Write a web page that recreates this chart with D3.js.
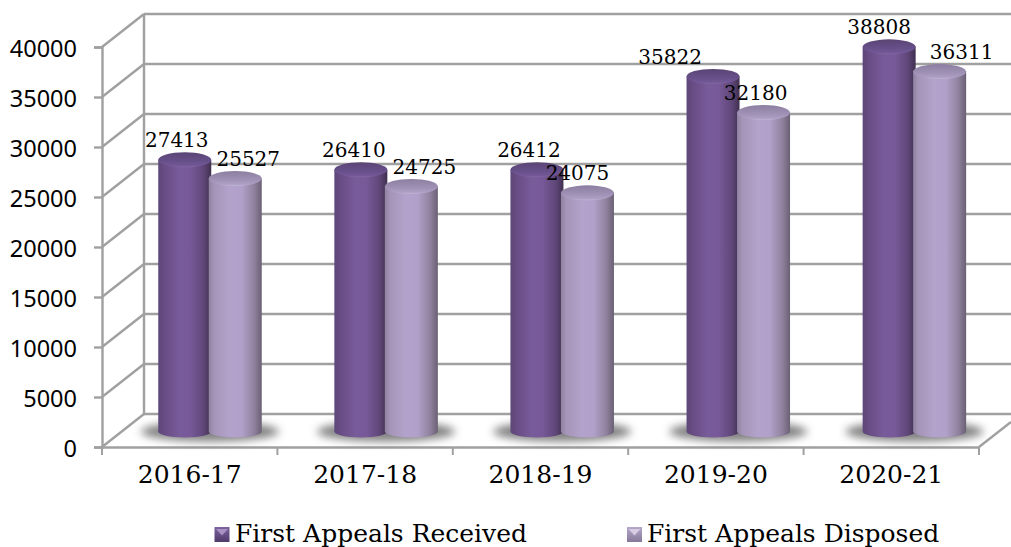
<!DOCTYPE html>
<html><head><meta charset="utf-8">
<script src="https://cdn.jsdelivr.net/npm/d3@7"></script>
<style>html,body{margin:0;background:#fff;overflow:hidden}svg{display:block}</style></head>
<body><div id="c"></div>
<script>
const categories=["2016-17","2017-18","2018-19","2019-20","2020-21"];
const received=[27413,26410,26412,35822,38808];
const disposed=[25527,24725,24075,32180,36311];
const seriesNames=["First Appeals Received","First Appeals Disposed"];
const yTicks=[0,5000,10000,15000,20000,25000,30000,35000,40000];
// horizontal nudges of the data labels relative to their bar, as placed in the reference
const receivedLabelNudge=[-8,-7,-8,-43,-10];
const disposedLabelNudge=[13,13,-10,-8,22];

const W=1011,H=547,GRID="#a0a0a0";
const depth={x:42,y:-33};
const svg=d3.select("#c").append("svg").attr("width",W).attr("height",H);
const defs=svg.append("defs");
function lin(id,stops,x2=1,y2=0){
  const g=defs.append("linearGradient").attr("id",id).attr("x1",0).attr("y1",0).attr("x2",x2).attr("y2",y2);
  stops.forEach(s=>g.append("stop").attr("offset",s[0]).attr("stop-color",s[1]));
}
lin("bodyA",[[0,"#5c4679"],[.1,"#674b82"],[.4,"#785b9a"],[.6,"#775999"],[.85,"#604779"],[1,"#40304f"]]);
lin("bodyB",[[0,"#8f829f"],[.1,"#a595b8"],[.4,"#b3a2cb"],[.62,"#b1a0c9"],[.85,"#90839f"],[1,"#6a6074"]]);
lin("topA",[[0,"#5a4474"],[.6,"#67508a"],[.88,"#725896"],[1,"#8269a3"]],0,1);
lin("topB",[[0,"#8b7ea0"],[.6,"#a092b6"],[.88,"#ad9fc4"],[1,"#c0b4d4"]],0,1);
lin("lgA",[[0,"#7d63a0"],[1,"#4f3a69"]],0,1);
lin("lgB",[[0,"#b6a8cc"],[1,"#857897"]],0,1);
defs.append("filter").attr("id","blur").attr("x","-30%").attr("y","-80%").attr("width","160%").attr("height","260%")
  .append("feGaussianBlur").attr("stdDeviation",4.5);

const y=d3.scaleLinear().domain([0,40000]).range([447,47]);
const x=d3.scaleBand().domain(categories).range([102,979]);
const yBar=d3.scaleLinear().domain([0,40000]).range([431.5,35]);
const xGroup=d3.scaleBand().domain(categories).range([121.5,1002]);
const xInner=d3.scaleBand().domain([0,1]).range([38,139]);
const rx=26.5,ry=7.5,ryBase=6;

// back wall and side wall
const walls=svg.append("g").attr("fill","none").attr("stroke",GRID).attr("stroke-width",2.4);
walls.selectAll(".g").data(yTicks).join("line")
  .attr("x1",102+depth.x).attr("x2",W).attr("y1",d=>y(d)+depth.y).attr("y2",d=>y(d)+depth.y);
walls.selectAll(".d").data(yTicks).join("line")
  .attr("x1",102).attr("x2",102+depth.x).attr("y1",d=>y(d)).attr("y2",d=>y(d)+depth.y);
walls.append("line").attr("x1",144).attr("x2",144).attr("y1",y(40000)+depth.y).attr("y2",y(0)+depth.y);
walls.append("line").attr("x1",979).attr("x2",1011).attr("y1",447).attr("y2",422);

// axes
const yAxis=svg.append("g").attr("transform","translate(102,0)")
  .call(d3.axisLeft(y).tickValues(yTicks).tickFormat(d3.format("d")).tickSize(8).tickPadding(17));
const xAxis=svg.append("g").attr("transform","translate(0,447)")
  .call(d3.axisBottom(x).tickSize(0).tickPadding(18));
[yAxis,xAxis].forEach(a=>a.selectAll("path,line").attr("stroke",GRID).attr("stroke-width",2.4));
xAxis.selectAll(".edge").data(d3.range(categories.length+1)).join("line").attr("class","edge")
  .attr("x1",i=>x.range()[0]+i*x.step()).attr("x2",i=>x.range()[0]+i*x.step())
  .attr("y1",0).attr("y2",8).attr("stroke",GRID).attr("stroke-width",2);
yAxis.selectAll("text").attr("font-family","'Noto Sans'").attr("font-size",23.5).attr("dy",".40em").attr("fill","#000");
xAxis.selectAll("text").attr("font-family","'DejaVu Serif'").attr("font-size",25).attr("fill","#000");

// bars
const rows=categories.map((c,i)=>({c,i,vals:[received[i],disposed[i]],nudge:[receivedLabelNudge[i],disposedLabelNudge[i]]}));
const groups=svg.selectAll(".grp").data(rows).join("g").attr("class","grp")
  .attr("transform",d=>`translate(${xGroup(d.c)},0)`);
groups.append("ellipse").attr("cx",xInner.bandwidth()+xInner(0)).attr("cy",yBar(0))
  .attr("rx",69).attr("ry",10).attr("fill","#555").attr("opacity",.75).attr("filter","url(#blur)");
[0,1].forEach(s=>{
  const b=groups.append("g").attr("transform",`translate(${xInner(s)+xInner.bandwidth()/2},0)`);
  const id=s?"B":"A";
  b.append("path").attr("fill",`url(#body${id})`)
    .attr("d",d=>{const t=yBar(d.vals[s]),z=yBar(0);
      return `M${-rx},${t}L${-rx},${z}A${rx},${ryBase} 0 0 0 ${rx},${z}L${rx},${t}Z`;});
  b.append("ellipse").attr("cy",d=>yBar(d.vals[s])).attr("rx",rx).attr("ry",ry).attr("fill",`url(#top${id})`);
  b.append("text").attr("x",d=>d.nudge[s]).attr("y",d=>yBar(d.vals[s])-12.5)
    .attr("text-anchor","middle").attr("font-family","'DejaVu Serif'").attr("font-size",20).attr("fill","#000")
    .text(d=>d.vals[s]);
});

// legend
const lg=svg.selectAll(".lg").data(seriesNames).join("g").attr("class","lg")
  .attr("transform",(d,i)=>`translate(${[214.5,627][i]},527)`);
lg.append("rect").attr("width",15).attr("height",15).attr("fill",(d,i)=>i?"url(#lgB)":"url(#lgA)");
lg.append("path").attr("d","M1.5,2L13.5,2L7.5,8.5Z").attr("fill",(d,i)=>i?"#d6cde3":"#a892c4");
lg.append("text").attr("x",(d,i)=>i?20:20.5).attr("y",14.7).attr("font-family","'DejaVu Serif'").attr("font-size",25).attr("fill","#000").text(d=>d);
</script></body></html>
